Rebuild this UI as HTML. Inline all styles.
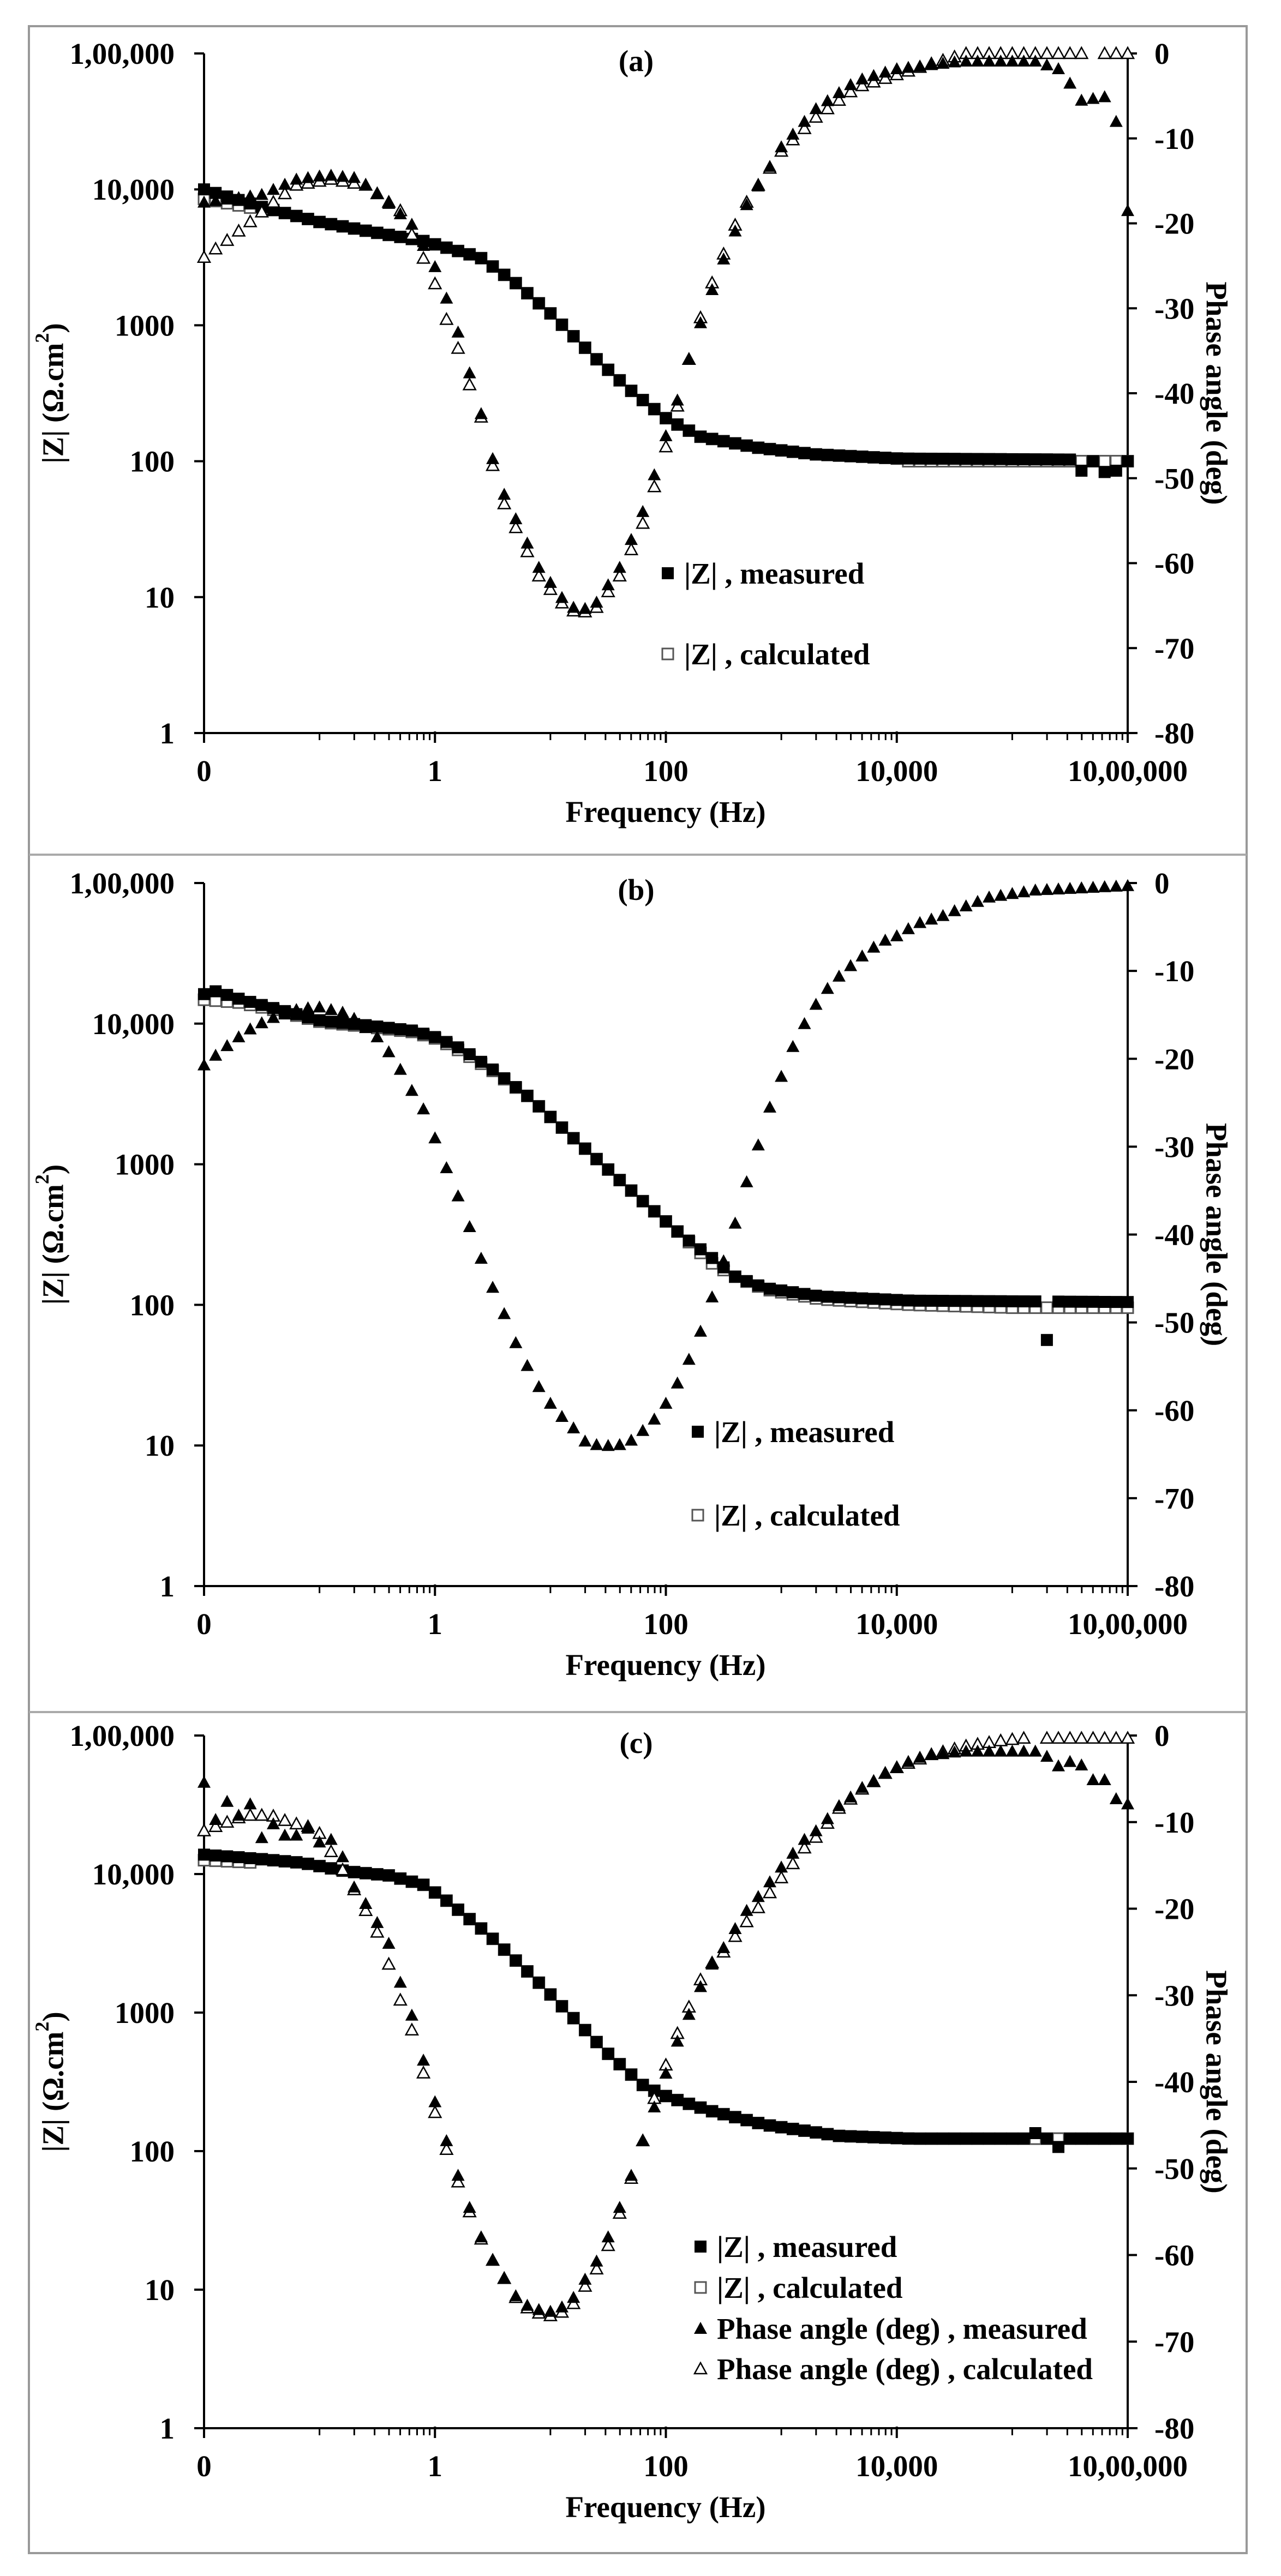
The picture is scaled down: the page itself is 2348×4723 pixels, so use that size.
<!DOCTYPE html>
<html><head><meta charset="utf-8">
<style>
html,body{margin:0;padding:0;background:#fff;}
svg{display:block;}
text{font-family:"Liberation Serif",serif;font-weight:bold;font-size:55px;fill:#000;}
</style></head>
<body>
<svg id="s" width="2348" height="4723" viewBox="0 0 2348 4723" xmlns="http://www.w3.org/2000/svg">
<rect x="0" y="0" width="2348" height="4723" fill="#fff"/>
<rect x="53" y="48" width="2232" height="4633" fill="none" stroke="#999" stroke-width="4"/>
<line x1="53" y1="1567" x2="2285" y2="1567" stroke="#aaa" stroke-width="4"/>
<line x1="53" y1="3139" x2="2285" y2="3139" stroke="#aaa" stroke-width="4"/>
<g id="g"></g>
</svg>
<script>
(function(){
const g=document.getElementById('g');
let out='';
const L=374,R=2067;
function X(lf){return L+(lf+2)*(R-L)/8;}
function interp(tab,x){
  if(x<=tab[0][0])return tab[0][1];
  for(let i=1;i<tab.length;i++){if(x<=tab[i][0]){const a=tab[i-1],b=tab[i];return a[1]+(b[1]-a[1])*(x-a[0])/(b[0]-a[0]);}}
  return tab[tab.length-1][1];
}
const LF=[];for(let i=0;i<=80;i++)LF.push(Math.round((-2+i*0.1)*10)/10);
function sqF(x,y){return `<rect x="${(x-11).toFixed(1)}" y="${(y-11).toFixed(1)}" width="22" height="22" fill="#000"/>`;}
function sqO(x,y){return `<rect x="${(x-10).toFixed(1)}" y="${(y-10).toFixed(1)}" width="20" height="20" fill="#fff" stroke="#555" stroke-width="3"/>`;}
function trF(x,y){return `<polygon points="${x.toFixed(1)},${(y-12).toFixed(1)} ${(x-12).toFixed(1)},${(y+10).toFixed(1)} ${(x+12).toFixed(1)},${(y+10).toFixed(1)}" fill="#000"/>`;}
function trO(x,y){return `<polygon points="${x.toFixed(1)},${(y-11).toFixed(1)} ${(x-11).toFixed(1)},${(y+9).toFixed(1)} ${(x+11).toFixed(1)},${(y+9).toFixed(1)}" fill="#fff" stroke="#000" stroke-width="2.5"/>`;}

function panel(p){
  const T=p.T,B=p.B,H=B-T;
  const YZ=v=>T+(5-v)*H/5, YP=d=>T+(-d)*H/80;
  let s='';
  s+=`<line x1="${L}" y1="${T}" x2="${L}" y2="${B+18}" stroke="#000" stroke-width="4"/>`;
  s+=`<line x1="${R}" y1="${T}" x2="${R}" y2="${B+18}" stroke="#000" stroke-width="4"/>`;
  s+=`<line x1="${L-18}" y1="${B}" x2="${R+18}" y2="${B}" stroke="#000" stroke-width="4"/>`;
  const zl=['1,00,000','10,000','1000','100','10','1'];
  for(let i=0;i<=5;i++){const y=T+i*H/5;
    s+=`<line x1="${L-18}" y1="${y}" x2="${L}" y2="${y}" stroke="#000" stroke-width="4"/>`;
    s+=`<text x="320" y="${y+19}" text-anchor="end">${zl[i]}</text>`;}
  for(let i=0;i<=8;i++){const y=T+i*H/8;
    s+=`<line x1="${R}" y1="${y}" x2="${R+17}" y2="${y}" stroke="#000" stroke-width="4"/>`;
    s+=`<text x="2116" y="${y+19}">${i==0?'0':'-'+(i*10)}</text>`;}
  const xl=['0','1','100','10,000','10,00,000'];
  for(let m=0;m<4;m++){
    const base=-2+2*m;
    for(let k=1;k<=9;k++){const x=X(base+1+Math.log10(k));
      s+=`<line x1="${x}" y1="${B}" x2="${x}" y2="${B+13}" stroke="#000" stroke-width="3"/>`;}
  }
  for(let m=0;m<=4;m++){const x=X(-2+2*m);
    s+=`<line x1="${x}" y1="${B-3}" x2="${x}" y2="${B+18}" stroke="#000" stroke-width="4"/>`;
    s+=`<text x="${x}" y="${B+88}" text-anchor="middle">${xl[m]}</text>`;}
  const mid=(T+B)/2;
  s+=`<text x="1220" y="${B+163}" text-anchor="middle">Frequency (Hz)</text>`;
  s+=`<text transform="translate(97,${mid}) rotate(-90)" text-anchor="middle" dominant-baseline="central">|Z| (Ω.cm<tspan font-size="36" dy="-20">2</tspan><tspan dy="20">)</tspan></text>`;
  s+=`<text transform="translate(2230,${mid}) rotate(90)" text-anchor="middle" dominant-baseline="central">Phase angle (deg)</text>`;
  s+=`<text x="1166" y="${p.tY}" text-anchor="middle">${p.title}</text>`;
  LF.forEach((lf,i)=>{ if(p.zc){const v=p.zc(lf,i); if(v!=null) s+=sqO(X(lf),YZ(v));}});
  LF.forEach((lf,i)=>{ const v=p.zm(lf,i); if(v!=null) s+=sqF(X(lf),YZ(v));});
  if(p.pc) LF.forEach((lf,i)=>{ const v=p.pc(lf,i); if(v!=null) s+=trO(X(lf),YP(v));});
  LF.forEach((lf,i)=>{ const v=p.pm(lf,i); if(v!=null) s+=trF(X(lf),YP(v));});
  p.leg.forEach(l=>{
    const f={sF:sqF,sO:sqO,tF:trF,tO:trO}[l[0]];
    s+=f(p.lx,l[1]);
    s+=`<text x="${p.lx+30}" y="${l[1]+19}">${l[2]}</text>`;
  });
  return s;
}

// ---------- panel a ----------
const aZ=[[-2,4.0],[-1.5,3.87],[-1,3.76],[-0.5,3.68],[-0.1,3.62],[0.39,3.5],[0.7,3.31],[1.01,3.08],[1.4,2.75],[1.71,2.51],[2.01,2.31],[2.3,2.18],[2.79,2.1],[3.3,2.05],[4,2.02],[6,2.01]];
const aZo={5.6:1.93,5.7:2.0,5.8:1.92,5.9:1.93,6:2.0};
const aP=[[-2,-17.5],[-1.5,-16.6],[-1.2,-14.8],[-0.93,-14.3],[-0.7,-14.6],[-0.51,-16.3],[-0.2,-20.1],[0,-25.1],[0.1,-28.8],[0.2,-32.8],[0.3,-37.6],[0.4,-42.4],[0.5,-47.7],[0.6,-51.9],[0.76,-56.5],[0.9,-60.5],[1.12,-64.4],[1.25,-65.7],[1.4,-64.6],[1.6,-60.5],[1.81,-53.6],[1.9,-49.6],[2.0,-45],[2.1,-40.8],[2.2,-36],[2.3,-31.7],[2.4,-27.8],[2.5,-24.2],[2.6,-20.9],[2.7,-17.8],[2.8,-15.6],[3.0,-11],[3.3,-6.5],[3.65,-3.2],[4,-1.8],[4.56,-0.9],[5.2,-0.9],[5.4,-1.8],[5.5,-3.5],[5.6,-5.5],[5.7,-5.3],[5.8,-5.1],[5.9,-8],[6,-18.5]];
const aPc=[[-2,-24],[-1.8,-22],[-1.6,-19.8],[-1.4,-17.5],[-1.2,-15.5],[-0.9,-14.8],[-0.6,-15.5],[-0.3,-18.5],[-0.1,-24.1],[0,-27.1],[0.1,-31.3],[0.2,-34.7],[0.3,-39],[0.4,-42.8],[0.5,-48.5],[0.6,-53],[0.76,-57.5],[0.9,-61.5],[1.12,-65],[1.25,-66],[1.4,-65.2],[1.6,-61.5],[1.81,-55],[1.9,-51],[2.0,-46.3],[2.1,-41.5],[2.2,-36],[2.3,-31.1],[2.4,-27],[2.5,-23.6],[2.6,-20.2],[2.7,-17.5],[2.8,-15.5],[3.0,-11.5],[3.3,-7.5],[3.65,-4],[4,-2.5],[4.3,-1.2],[4.6,0],[6,0]];
out+=panel({T:98,B:1344,title:'(a)',tY:130,
  zm:(lf)=>aZo[lf]!==undefined?aZo[lf]:interp(aZ,lf),
  zc:(lf)=>lf<-1.5?interp([[-2,3.93],[-1.5,3.85]],lf):(lf>4?2.0:interp(aZ,lf)),
  pm:(lf)=>interp(aP,lf),
  pc:(lf)=>Math.abs(lf-5.7)<0.01?null:interp(aPc,lf),
  lx:1224,leg:[['sF',1051,'|Z| , measured'],['sO',1199,'|Z| , calculated']]});

// ---------- panel b ----------
const bZ=[[-2,4.21],[-1.9,4.23],[-1.67,4.17],[-1.35,4.1],[-0.98,4.02],[-0.61,3.99],[-0.19,3.95],[0.02,3.9],[0.23,3.82],[0.49,3.68],[0.81,3.48],[1.18,3.2],[1.49,2.97],[1.81,2.73],[2.13,2.5],[2.39,2.34],[2.6,2.2],[2.86,2.12],[3.34,2.06],[4.13,2.03],[6,2.02]];
const bZc=[[-2,4.17],[-1.7,4.15],[-1.35,4.09],[-0.98,4.01],[-0.61,3.98],[-0.19,3.94],[0.02,3.89],[0.23,3.8],[0.49,3.67],[0.81,3.48],[1.18,3.2],[1.49,2.97],[1.81,2.73],[2.13,2.5],[2.39,2.3],[2.6,2.2],[2.86,2.11],[3.34,2.04],[4.13,2.0],[5,1.98],[6,1.98]];
const bP=[[-2,-20.7],[-1.9,-19.6],[-1.8,-18.5],[-1.7,-17.5],[-1.6,-16.6],[-1.5,-15.9],[-1.4,-15.3],[-1.3,-14.9],[-1.2,-14.4],[-1.1,-14.2],[-1.0,-14.1],[-0.9,-14.4],[-0.8,-14.7],[-0.7,-15.4],[-0.5,-17.5],[-0.4,-19.2],[-0.3,-21.2],[-0.2,-23.6],[-0.1,-25.7],[0,-29],[0.1,-32.4],[0.2,-35.6],[0.3,-39.1],[0.4,-42.7],[0.5,-46],[0.6,-49],[0.7,-52.3],[0.8,-54.9],[0.9,-57.3],[1.0,-59.2],[1.1,-60.7],[1.2,-62],[1.3,-63.5],[1.4,-63.9],[1.5,-64],[1.6,-63.9],[1.7,-63.4],[1.8,-62.3],[1.9,-61],[2.0,-59.2],[2.1,-56.9],[2.2,-54.2],[2.3,-51],[2.4,-47.1],[2.5,-43],[2.6,-38.7],[2.7,-34],[2.8,-29.8],[2.9,-25.5],[3.0,-22],[3.1,-18.6],[3.2,-16],[3.3,-13.8],[3.4,-12],[3.5,-10.6],[3.6,-9.4],[3.7,-8.3],[3.8,-7.3],[3.9,-6.5],[4.0,-6],[4.1,-5.2],[4.2,-4.5],[4.4,-3.7],[4.6,-2.6],[4.8,-1.6],[5.2,-0.8],[6,-0.3]];
out+=panel({T:1619,B:2908,title:'(b)',tY:1650,
  zm:(lf)=>Math.abs(lf-5.3)<0.01?1.75:interp(bZ,lf),
  zc:(lf)=>interp(bZc,lf),
  pm:(lf)=>interp(bP,lf),
  pc:null,
  lx:1279,leg:[['sF',2625,'|Z| , measured'],['sO',2778,'|Z| , calculated']]});

// ---------- panel c ----------
const cZ=[[-2,4.14],[-1.67,4.12],[-1.14,4.08],[-0.77,4.02],[-0.4,3.99],[-0.09,3.92],[0.13,3.79],[0.44,3.58],[0.86,3.25],[1.13,3.02],[1.49,2.71],[1.81,2.47],[2.02,2.39],[2.39,2.29],[2.86,2.19],[3.5,2.11],[4.13,2.09],[6,2.09]];
const cPm=[-5.4,-9.7,-7.6,-9.2,-7.9,-11.8,-10.2,-11.5,-11.5,-10.7,-12.3,-12,-14,
-17.5,-19.4,-21.6,-24,-28.5,-32.3,-37.5,
-42.3,-46.8,-50.8,-54.5,-57.9,-60.6,-62.6,-64.7,-65.8,-66.3,
-66.5,-66,-64.9,-62.8,-60.7,-57.9,-54.5,-50.8,-46.8,-42.9,
-39,-35.3,-32.2,-29,-26.4,-24.5,-22.3,-20.2,-18.6,-16.9,
-15.2,-13.6,-12,-11,-9.6,-8.1,-7.1,-6,-5.2,-4.3,
-3.7,-3,-2.5,-2.2,-2.1,-1.9,-1.8,-1.8,-1.8,-1.8,
-1.8,-1.8,-1.8,-2.4,-3.5,-3,-3.4,-5.1,-5.1,-7.3,-7.9];
const cLow=[-11,-10.5,-10,-9.5,-9.2,-9.2,-9.3,-9.8,-10.2,-10.5,-11.3,-13.4,-15.5,-17.8];
const cDel=[[-0.7,-0.5],[-0.5,-1.1],[-0.4,-2.4],[-0.2,-1.7],[0.1,-1],[0.5,0],[1.5,-1],[1.8,0],[1.9,1],[2.3,0.8],[2.5,-0.5],[2.7,-1.3],[3.1,-1.2],[3.5,-0.3],[4,0]];
out+=panel({T:3182,B:4452,title:'(c)',tY:3214,
  zm:(lf)=>Math.abs(lf-5.2)<0.01?2.13:(Math.abs(lf-5.4)<0.01?2.03:interp(cZ,lf)),
  zc:(lf)=>lf<-1.5?interp([[-2,4.1],[-1.5,4.08]],lf):(Math.abs(lf-5.4)<0.01?2.09:interp(cZ,lf)),
  pm:(lf,i)=>cPm[i],
  pc:(lf,i)=>{ if(i<cLow.length)return cLow[i]; if(Math.abs(lf-5.2)<0.01)return null;
    if(lf>=4) return interp([[4.0,-3.7],[4.3,-2.2],[4.6,-1.2],[4.9,-0.6],[5.1,-0.3],[6,-0.3]],lf);
    return cPm[i]+interp(cDel,lf);},
  lx:1284,leg:[['sF',4119,'|Z| , measured'],['sO',4194,'|Z| , calculated'],['tF',4269,'Phase angle (deg) , measured'],['tO',4343,'Phase angle (deg) , calculated']]});

g.innerHTML=out;
})();
</script>
</body></html>
